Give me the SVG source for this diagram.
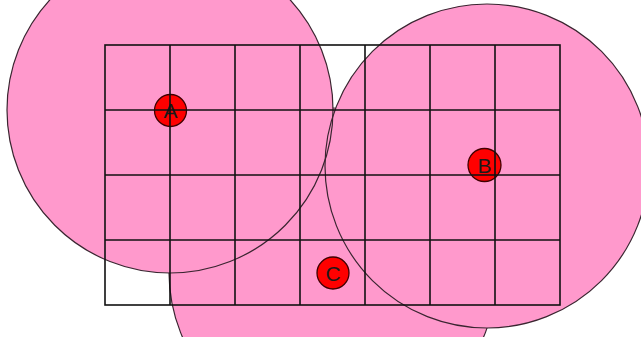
<svg xmlns="http://www.w3.org/2000/svg" width="641" height="337" viewBox="0 0 641 337">
<style>
.area{fill:#ff99cc;stroke:none}
.edge{fill:none;stroke:#3a2530;stroke-width:1.2}
.grid line,.grid rect{stroke:#111;stroke-width:1.6;fill:none}
.pt circle{fill:#ff0000;stroke:#400000;stroke-width:1.3}
.pt text{font-family:"Liberation Sans",Arial,sans-serif;font-size:21px;fill:#1a1a1a;text-anchor:middle}
</style>
<rect width="641" height="337" fill="#ffffff"/>
<g id="range-C">
<circle class="area" cx="333" cy="272" r="164"/>
<circle class="edge" cx="333" cy="272" r="164"/>
</g>
<g id="range-A">
<circle class="area" cx="170" cy="110" r="163"/>
</g>
<g id="range-B">
<circle class="area" cx="487" cy="166" r="162"/>
</g>
<circle class="edge" cx="170" cy="110" r="163"/>
<circle class="edge" cx="487" cy="166" r="162"/>
<g id="A" class="pt">
<circle cx="170.5" cy="110.5" r="16"/>
<text x="170.5" y="118">A</text>
</g>
<g id="B" class="pt">
<circle cx="484.5" cy="165" r="16.5"/>
<text x="484.5" y="172.5">B</text>
</g>
<g id="C" class="pt">
<circle cx="333" cy="273" r="16"/>
<text x="333" y="280.5">C</text>
</g>
<g id="grid" class="grid">
<rect x="105" y="45" width="455" height="260"/>
<line x1="170" y1="45" x2="170" y2="305"/>
<line x1="235" y1="45" x2="235" y2="305"/>
<line x1="300" y1="45" x2="300" y2="305"/>
<line x1="365" y1="45" x2="365" y2="305"/>
<line x1="430" y1="45" x2="430" y2="305"/>
<line x1="495" y1="45" x2="495" y2="305"/>
<line x1="105" y1="110" x2="560" y2="110"/>
<line x1="105" y1="175" x2="560" y2="175"/>
<line x1="105" y1="240" x2="560" y2="240"/>
</g>
</svg>
